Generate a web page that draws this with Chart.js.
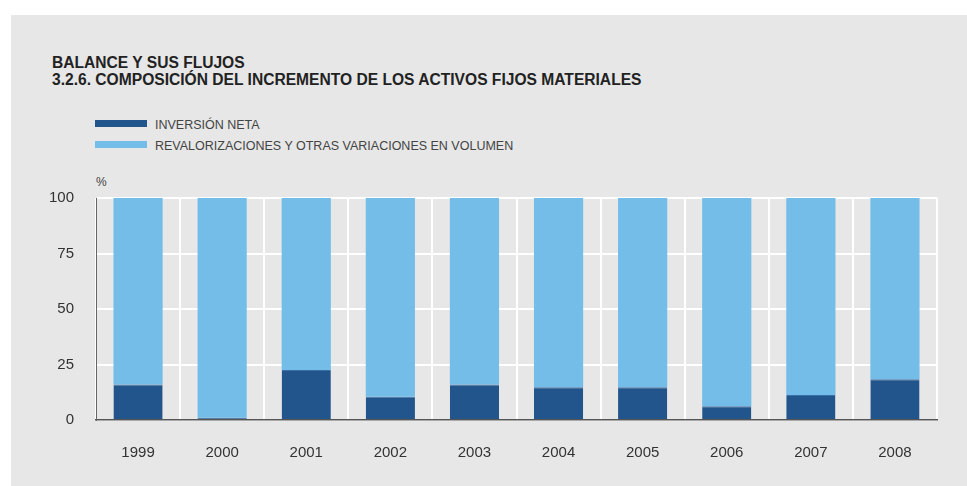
<!DOCTYPE html>
<html>
<head>
<meta charset="utf-8">
<script src="https://cdn.jsdelivr.net/npm/chart.js@4.4.1/dist/chart.umd.min.js"></script>
<style>
  body { margin: 0; background: #fff; font-family: "Liberation Sans", Arial, sans-serif; }
  #wrap { position: relative; width: 967px; height: 486px; overflow: hidden; }
  #panel { position: absolute; left: 11px; top: 15px; width: 956px; height: 471px; background: #e6e7e6; }
  #title { position: absolute; left: 52px; top: 54px; font-size: 15.6px; font-weight: bold; color: #222; line-height: 17px; }
  .leg { position: absolute; left: 95px; font-size: 12.5px; color: #444; line-height: 14px; }
  .leg span { display: inline-block; width: 52px; height: 7px; margin-right: 8px; vertical-align: 2px; }
  #pct { position: absolute; left: 96px; top: 175px; font-size: 12px; color: #444; }
  #stockFigure { position: absolute; left: 0; top: 0; }
</style>
</head>
<body>
<div id="wrap">
  <div id="panel"></div>
  <div id="title">BALANCE Y SUS FLUJOS<br>3.2.6. COMPOSICIÓN DEL INCREMENTO DE LOS ACTIVOS FIJOS MATERIALES</div>
  <div class="leg" style="top:118px"><span style="background:#21558c"></span>INVERSIÓN NETA</div>
  <div class="leg" style="top:139px"><span style="background:#75bde9"></span>REVALORIZACIONES Y OTRAS VARIACIONES EN VOLUMEN</div>
  <div id="pct">%</div>
  <canvas id="stockFigure" width="967" height="486"></canvas>
</div>
<script>
// years on the x axis
var years = ['1999', '2000', '2001', '2002', '2003', '2004', '2005', '2006', '2007', '2008']
// % of the increase
var inversionNeta = [16, 1, 22.5, 10.5, 16, 14.7, 14.7, 6.2, 11.3, 18.3]
var revalorizaciones = [84, 99, 77.5, 89.5, 84, 85.3, 85.3, 93.8, 88.7, 81.7]
var yTicks = [0, 25, 50, 75, 100]

var tickFont = { family: 'Liberation Sans', size: 15 }

const data = {
    labels: years,
    datasets: [{
        label: 'INVERSIÓN NETA',
        data: inversionNeta,
        backgroundColor: '#21558c',
        borderColor: '#3b70a6',
        borderWidth: { top: 1 },
        borderSkipped: false
    }, {
        label: 'REVALORIZACIONES Y OTRAS VARIACIONES EN VOLUMEN',
        data: revalorizaciones,
        backgroundColor: '#75bde9',
        borderWidth: 0
    }]
}

const config = {
    type: 'bar',
    data: data,
    options: {
        responsive: false,
        animation: false,
        layout: { padding: { left: 0, top: 198, right: 30, bottom: 0 } },
        datasets: { bar: { categoryPercentage: 1, barPercentage: 0.585 } },
        plugins: { legend: { display: false }, tooltip: { enabled: false } },
        scales: {
            x: {
                stacked: true,
                grid: { offset: true, color: '#ffffff', lineWidth: 2, drawTicks: false },
                border: { color: '#555555', width: 1.5 },
                ticks: { color: '#333', font: tickFont, padding: 24 },
                afterFit: function(scale) { scale.height = 66 }
            },
            y: {
                stacked: true,
                min: 0,
                max: 100,
                afterBuildTicks: function(scale) {
                    scale.ticks = yTicks.map(function(v) { return { value: v } })
                },
                grid: { color: '#ffffff', lineWidth: 2, drawTicks: false },
                border: { color: '#666666', width: 1 },
                ticks: { color: '#333', font: tickFont, padding: 22 },
                afterFit: function(scale) { scale.width = 96 }
            }
        }
    }
}

var stockFigure = new Chart(document.getElementById('stockFigure'), config)
</script>
</body>
</html>
